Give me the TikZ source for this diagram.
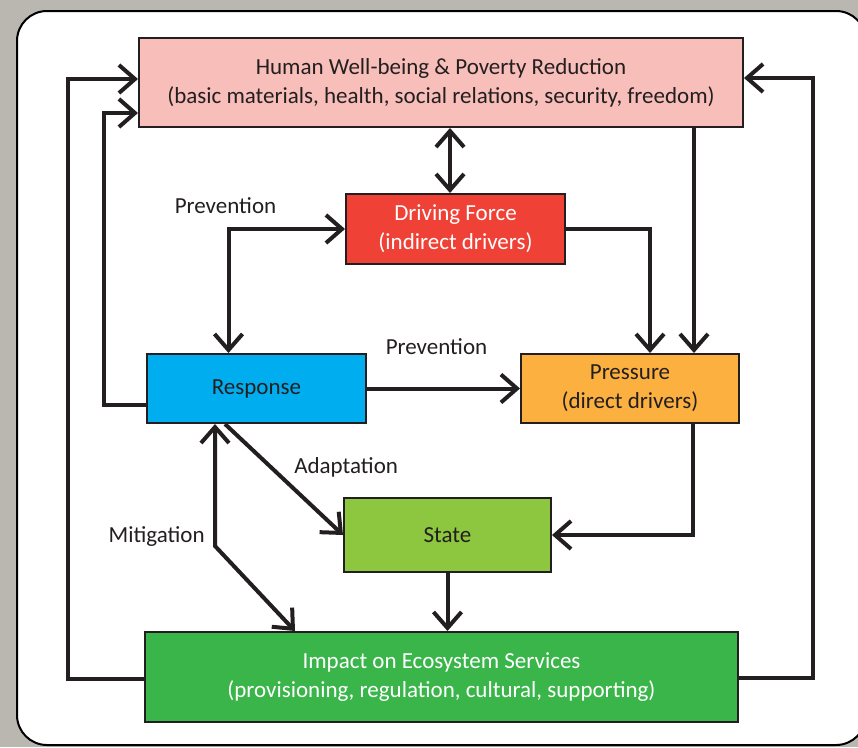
\documentclass[tikz,border=0pt]{standalone}
\usepackage{fontspec}
\setmainfont{Carlito}
\usepackage{xcolor}
\definecolor{backcolour}{RGB}{186,183,176}
\definecolor{linecolour}{RGB}{35,31,32}
\definecolor{wellbeingcolour}{RGB}{248,190,185}
\definecolor{drivingcolour}{RGB}{239,65,54}
\definecolor{responsecolour}{RGB}{0,174,239}
\definecolor{pressurecolour}{RGB}{251,176,64}
\definecolor{statecolour}{RGB}{141,198,63}
\definecolor{impactcolour}{RGB}{57,181,74}
\usetikzlibrary{arrows.meta}
\tikzstyle{wellbeing} = [rectangle, minimum width=604pt, minimum height=89pt, align=center, draw=linecolour, line width=2pt, fill=wellbeingcolour, text=linecolour]
\tikzstyle{driving} = [rectangle, minimum width=219pt, minimum height=70pt, align=center, draw=linecolour, line width=2pt, fill=drivingcolour, text=white]
\tikzstyle{response} = [rectangle, minimum width=219pt, minimum height=69pt, align=center, draw=linecolour, line width=2pt, fill=responsecolour, text=linecolour]
\tikzstyle{pressure} = [rectangle, minimum width=218pt, minimum height=69pt, align=center, draw=linecolour, line width=2pt, fill=pressurecolour, text=linecolour]
\tikzstyle{state} = [rectangle, minimum width=207pt, minimum height=74pt, align=center, draw=linecolour, line width=2pt, fill=statecolour, text=linecolour]
\tikzstyle{impact} = [rectangle, minimum width=593pt, minimum height=90pt, align=center, draw=linecolour, line width=2pt, fill=impactcolour, text=white]
\tikzstyle{arrow} = [draw=linecolour, line width=4pt, -{Straight Barb[length=16pt, width=28pt]}]
\tikzstyle{biarrow} = [draw=linecolour, line width=4pt, {Straight Barb[length=16pt, width=28pt]}-{Straight Barb[length=16pt, width=28pt]}]
\tikzstyle{label} = [text=linecolour]

\begin{document}
\begin{tikzpicture}[x=1pt, y=-1pt, font=\fontsize{23}{29}\selectfont]
	\useasboundingbox (0,0) rectangle (858,747);
	\clip (0,0) rectangle (858,747);
	\fill [backcolour] (0,0) rectangle (858,747);
	\draw [line width=2pt, draw=black, fill=white, rounded corners=30pt] (17,11) rectangle (866,745);
	\node (wellbeing) [wellbeing] at (441,82.5) {Human Well-being \& Poverty Reduction \\ (basic materials, health, social relations, security, freedom)};
	\node (driving) [driving] at (455.5,229) {Driving Force \\ (indirect drivers)};
	\node (response) [response] at (256.5,388.5) {Response};
	\node (pressure) [pressure] at (630,388.5) {Pressure \\ (direct drivers)};
	\node (state) [state] at (447.5,535) {State};
	\node (impact) [impact] at (441.5,677) {Impact on Ecosystem Services \\ (provisioning, regulation, cultural, supporting)};
	\draw [biarrow] ([xshift=-5.5pt]driving.north |- wellbeing.south) -- ([xshift=-5.5pt]driving.north);
	\draw [biarrow] ([xshift=-28pt]response.north) |- node[label, above, xshift=-3pt, yshift=10pt] {Prevention} (driving.west);
	\draw [arrow] (driving.east) -| ([xshift=20pt]pressure.north);
	\draw [arrow] ([xshift=64pt]pressure.north |- wellbeing.south) -- ([xshift=64pt]pressure.north);
	\draw [arrow] (response) -- node[label, above, xshift=-7pt, yshift=29pt] {Prevention} (pressure);
	\draw [arrow] ([yshift=-16.5pt]response.west) -- ++(-42pt,0) |- ([yshift=-30.5pt]wellbeing.west);
	\draw [arrow] ([yshift=-2pt]impact.west) -- ++(-76pt,0) |- ([yshift=3.5pt]wellbeing.west);
	\draw [arrow] ([yshift=-1pt]impact.east) -- ++(74pt,0) |- ([yshift=4.5pt]wellbeing.east);
	\draw [arrow] ([xshift=63pt]pressure.south) |- (state.east);
	\draw [arrow] (state.south) -- (state.south |- impact.north);
	\draw [arrow] ([xshift=-31.5pt]response.south) -- node[label, anchor=south west, xshift=5pt, yshift=-3pt] {Adaptation} (state.west);
	\draw [biarrow] ([xshift=-41.5pt]response.south) -- node[label, pos=0.92, left, xshift=-5pt] {Mitigation} ++(0,-122pt) -- ([xshift=-146.5pt]impact.north);
\end{tikzpicture}
\end{document}
